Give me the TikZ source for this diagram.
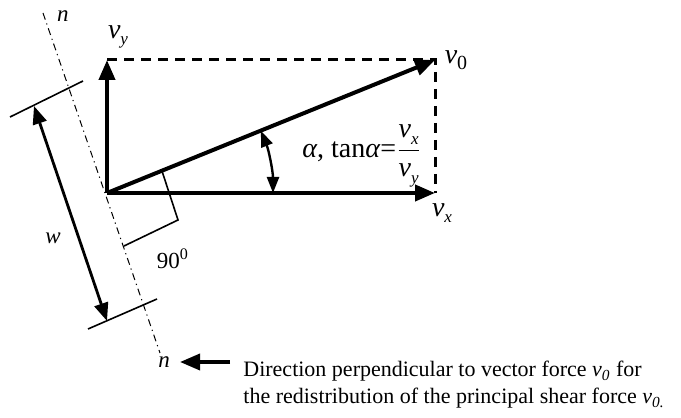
\documentclass[tikz,border=0pt]{standalone}
\usepackage{fontspec}
\setmainfont{Liberation Serif}
\usetikzlibrary{arrows.meta,calc}
\newcommand{\vs}[1]{\textit{v}\raisebox{-0.5ex}{\fontsize{8.5}{8.5}\selectfont\textit{#1}}}
\tikzset{
  vec/.style={line width=2pt,-{Triangle[length=10pt,width=8pt]}},
  comp/.style={line width=1.5pt,dash pattern=on 5pt off 3.5pt},
  nline/.style={line width=0.5pt,dash pattern=on 3.5pt off 2pt on 0.6pt off 2pt},
  tick/.style={line width=0.8pt},
  warrow/.style={line width=1.4pt,{Triangle[length=9pt,width=7pt]}-{Triangle[length=9pt,width=7pt]}},
  angarrow/.style={line width=1.2pt,{Triangle[length=8pt,width=6pt]}-{Triangle[length=8pt,width=6pt]}},
  lbl/.style={font=\fontsize{14}{14}\selectfont,inner sep=0pt},
  small/.style={font=\fontsize{11.5}{11.5}\selectfont,inner sep=0pt}
}

\begin{document}
\begin{tikzpicture}[x=0.5pt,y=0.5pt]
  \useasboundingbox (0,0) rectangle (681,418);
  % points of the force triangle
  \coordinate (O) at (107,225);
  \coordinate (vxend) at (435,225);
  \coordinate (vyend) at (107,358);
  \coordinate (v0end) at (435,358);
  % the n--n direction
  \coordinate (ntop) at (43,405);
  \coordinate (nbot) at (160,65);
  \draw[nline] (ntop) -- (nbot);
  % components and resultant
  \draw[comp] (vyend) -- (v0end) -- (vxend);
  \draw[vec] (O) -- (vyend);
  \draw[vec] (O) -- (vxend);
  \draw[vec] (O) -- (v0end);
  % width w between the two ticks
  \coordinate (t1a) at (10,301);
  \coordinate (t1b) at (83,337);
  \coordinate (t2a) at (88,89);
  \coordinate (t2b) at (157,119);
  \draw[tick] (t1a) -- (t1b);
  \draw[tick] (t2a) -- (t2b);
  \coordinate (wtop) at (34,312);
  \coordinate (wbot) at (107,97);
  \draw[warrow] (wtop) -- (wbot);
  % right angle mark
  \coordinate (r1) at (162,247);
  \coordinate (r2) at (178,198);
  \coordinate (r3) at (124,172);
  \draw[tick] (r1) -- (r2) -- (r3);
  % angle alpha
  \draw[angarrow] ($(O)+(22:166)$) arc[start angle=22,end angle=0,radius=166];
  % labels
  \node[small] (ntoplbl) at (63,402) {\textit{n}};
  \node[small] (nbotlbl) at (164,56) {\textit{n}};
  \node[lbl] (vylbl) at (118,381) {\vs{y}};
  \node[lbl] (v0lbl) at (456,358) {\textit{v}\raisebox{-0.45ex}{\fontsize{10}{10}\selectfont 0}};
  \node[lbl] (vxlbl) at (442,205) {\vs{x}};
  \node[small] (wlbl) at (53,180) {\textit{w}};
  \node[small] (anglbl) at (173,159) {90\textsuperscript{0}};
  \node[lbl,anchor=west] (alphalbl) at (302,262)
    {\textit{α}, tan\textit{α}=$\displaystyle\frac{\mbox{\vs{x}}}{\mbox{\vs{y}}}$};
  % note on the n direction
  \node[anchor=west,align=left,inner sep=0pt,
        font=\fontsize{11}{13.5}\selectfont] (note) at (243,33)
    {Direction perpendicular to vector force \textit{v\textsubscript{0}} for\\
     the redistribution of the principal shear force \textit{v\textsubscript{0.}}};
  \coordinate (notetail) at (230,56);
  \coordinate (notehead) at (180,56);
  \draw[vec,line width=1.8pt] (notetail) -- (notehead);
\end{tikzpicture}
\end{document}
